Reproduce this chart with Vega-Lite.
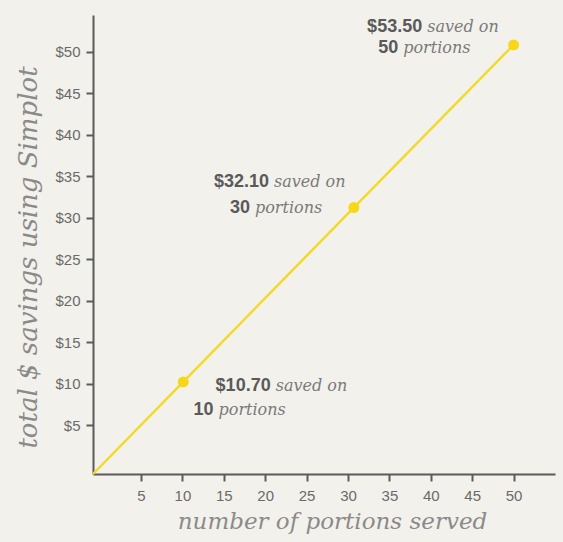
{
  "$schema": "https://vega.github.io/schema/vega-lite/v6.json",
  "width": 462,
  "height": 459,
  "autosize": {"type": "none"},
  "padding": {"left": 93, "top": 15, "right": 8, "bottom": 68},
  "background": "#f3f1ec",
  "config": {
    "view": {"stroke": null},
    "axis": {
      "grid": false,
      "domainColor": "#5a5a5a",
      "domainWidth": 2,
      "tickColor": "#5a5a5a",
      "tickWidth": 2,
      "tickSize": 7,
      "labelColor": "#6a6a6a",
      "labelFont": "Liberation Sans, Arial, sans-serif",
      "labelFontSize": 15,
      "titleColor": "#8a8a8a",
      "titleFont": "DejaVu Serif, serif",
      "titleFontStyle": "italic",
      "titleFontWeight": "normal",
      "titleFontSize": 22
    }
  },
  "datasets": {
    "line": [
      {"portions": -0.8, "savings": -0.9},
      {"portions": 10.1, "savings": 10.2},
      {"portions": 30.7, "savings": 31.2},
      {"portions": 50, "savings": 50.8}
    ],
    "points": [
      {"portions": 10.1, "savings": 10.2},
      {"portions": 30.7, "savings": 31.2},
      {"portions": 50, "savings": 50.8}
    ],
    "notes": [
      {"portions": 20.9, "savings": 9.1, "bold": "$10.70", "italic": "saved on"},
      {"portions": 14.0, "savings": 6.2, "bold": "10", "italic": "portions"},
      {"portions": 20.7, "savings": 33.7, "bold": "$32.10", "italic": "saved on"},
      {"portions": 18.4, "savings": 30.5, "bold": "30", "italic": "portions"},
      {"portions": 39.2, "savings": 52.3, "bold": "$53.50", "italic": "saved on"},
      {"portions": 36.3, "savings": 49.8, "bold": "50", "italic": "portions"}
    ]
  },
  "encoding": {
    "x": {
      "field": "portions",
      "type": "quantitative",
      "scale": {"domain": [-0.8, 55], "nice": false, "zero": false},
      "axis": {
        "values": [5, 10, 15, 20, 25, 30, 35, 40, 45, 50],
        "title": "number of portions served",
        "labelPadding": 7,
        "titleX": 239,
        "titleY": 54,
        "titleAlign": "center",
        "titleBaseline": "alphabetic",
        "titleAnchor": null,
        "titleFontSize": 23
      }
    },
    "y": {
      "field": "savings",
      "type": "quantitative",
      "scale": {"domain": [-0.9, 54.4], "nice": false, "zero": false},
      "axis": {
        "values": [5, 10, 15, 20, 25, 30, 35, 40, 45, 50],
        "labelExpr": "'$' + datum.value",
        "title": "total $ savings using Simplot",
        "labelPadding": 6,
        "titleX": -57,
        "titleY": 242,
        "titleAngle": -90,
        "titleAlign": "center",
        "titleBaseline": "alphabetic",
        "titleAnchor": null,
        "titleFontSize": 26
      }
    }
  },
  "layer": [
    {
      "data": {"name": "line"},
      "mark": {"type": "line", "color": "#f2da2c", "strokeWidth": 2.5}
    },
    {
      "data": {"name": "points"},
      "mark": {"type": "circle", "color": "#f8d618", "size": 120, "opacity": 1}
    },
    {
      "data": {"name": "notes"},
      "mark": {
        "type": "text",
        "align": "right",
        "baseline": "alphabetic",
        "dx": -2,
        "font": "Liberation Sans, Arial, sans-serif",
        "fontWeight": "bold",
        "fontSize": 18,
        "color": "#5a5a5a"
      },
      "encoding": {"text": {"field": "bold"}}
    },
    {
      "data": {"name": "notes"},
      "mark": {
        "type": "text",
        "align": "left",
        "baseline": "alphabetic",
        "dx": 3,
        "font": "DejaVu Serif, serif",
        "fontStyle": "italic",
        "fontSize": 16,
        "color": "#7a7a7a"
      },
      "encoding": {"text": {"field": "italic"}}
    }
  ]
}
